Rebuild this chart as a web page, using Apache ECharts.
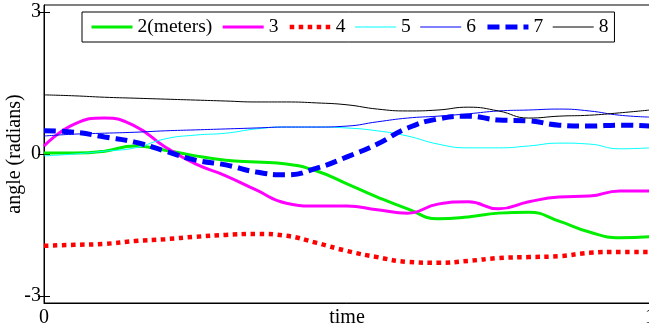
<!DOCTYPE html>
<html>
<head>
<meta charset="utf-8">
<script src="https://cdn.jsdelivr.net/npm/echarts@6/dist/echarts.min.js"></script>
<style>
  html, body { margin: 0; padding: 0; background: #fff; }
  #chart { width: 649px; height: 326px; }
</style>
</head>
<body>
<div id="chart"></div>
<script>
// time samples (0..1)
const times = [0, 0.05, 0.1, 0.15, 0.2, 0.25, 0.3, 0.35, 0.4, 0.45, 0.5,
               0.55, 0.6, 0.65, 0.7, 0.75, 0.8, 0.85, 0.9, 0.95, 1];
const s2 = [0.02, 0.02, 0.06, 0.17, 0.08, -0.04, -0.13, -0.17, -0.21, -0.36, -0.63,
            -0.91, -1.16, -1.37, -1.33, -1.25, -1.23, -1.42, -1.65, -1.77, -1.75];
const s3 = [0.17, 0.63, 0.76, 0.59, 0.15, -0.21, -0.46, -0.76, -1.04, -1.10, -1.10,
            -1.18, -1.25, -1.06, -1.01, -1.16, -1.01, -0.91, -0.89, -0.78, -0.78];
const s4 = [-1.94, -1.92, -1.90, -1.84, -1.80, -1.75, -1.71, -1.69, -1.73, -1.88, -2.05,
            -2.18, -2.28, -2.30, -2.26, -2.20, -2.18, -2.16, -2.09, -2.07, -2.07];
const s5 = [-0.04, 0, 0.06, 0.13, 0.32, 0.40, 0.44, 0.53, 0.57, 0.57, 0.55,
            0.49, 0.38, 0.21, 0.13, 0.13, 0.17, 0.23, 0.21, 0.11, 0.13];
const s6 = [0.38, 0.42, 0.44, 0.46, 0.49, 0.51, 0.53, 0.55, 0.57, 0.57, 0.59,
            0.68, 0.76, 0.80, 0.85, 0.91, 0.93, 0.95, 0.91, 0.82, 0.78];
const s7 = [0.49, 0.46, 0.36, 0.25, 0.06, -0.13, -0.23, -0.38, -0.44, -0.30, -0.06,
            0.21, 0.55, 0.74, 0.80, 0.72, 0.70, 0.61, 0.59, 0.61, 0.59];
const s8 = [1.25, 1.23, 1.20, 1.18, 1.16, 1.14, 1.12, 1.10, 1.10, 1.08, 1.04,
            0.95, 0.91, 0.93, 0.99, 0.91, 0.76, 0.80, 0.82, 0.87, 0.93];
const yTicks = [-3, 0, 3];
const xTicks = [0, 1];

const font = 'Liberation Serif';
const chart = echarts.init(document.getElementById('chart'));

const styles = [
    { name: '2(meters)', data: s2, color: '#00ee00', width: 3, type: 'solid' },
    { name: '3', data: s3, color: '#ff00ff', width: 3, type: 'solid' },
    { name: '4', data: s4, color: '#ff0000', width: 4.5, type: [4.5, 4.5] },
    { name: '5', data: s5, color: '#00ffff', width: 1, type: 'solid' },
    { name: '6', data: s6, color: '#0000ff', width: 1, type: 'solid' },
    { name: '7', data: s7, color: '#0000ff', width: 5, type: [12, 6] },
    { name: '8', data: s8, color: '#000000', width: 1, type: 'solid' }
];

const pair = arr => arr.map((v, i) => [times[i], v]);

chart.setOption({
    animation: false,
    grid: {
        left: 44, right: -1, top: 5, bottom: 23,
        outerBoundsMode: 'none', containLabel: false,
        show: true, borderColor: '#000', borderWidth: 1
    },
    legend: {
        left: 82,
        top: 12,
        padding: [5, 6, 5, 8],
        itemWidth: 41,
        itemHeight: 20,
        itemGap: 9,
        borderColor: '#000',
        borderWidth: 1,
        backgroundColor: '#fff',
        itemStyle: { opacity: 0 },
        textStyle: { fontFamily: font, fontSize: 19.5, color: '#000' },
        data: styles.map(s => ({
            name: s.name,
            itemStyle: { opacity: 0 },
            lineStyle: { color: s.color, width: s.width, type: s.type, cap: 'butt' }
        }))
    },
    xAxis: {
        type: 'value',
        min: 0,
        max: 1,
        name: 'time',
        nameLocation: 'middle',
        nameGap: 5,
        nameMoveOverlap: false,
        nameTextStyle: { fontFamily: font, fontSize: 20, color: '#000', verticalAlign: 'top' },
        axisLine: { onZero: false, lineStyle: { color: '#000', width: 1 } },
        axisTick: { show: false },
        splitLine: { show: false },
        axisLabel: { customValues: xTicks, fontFamily: font, fontSize: 20, color: '#000', margin: 5 }
    },
    yAxis: [{
        type: 'value',
        min: -3.15,
        max: 3.15,
        name: 'angle (radians)',
        nameLocation: 'middle',
        nameGap: 19,
        nameMoveOverlap: false,
        nameTextStyle: { fontFamily: font, fontSize: 20, color: '#000' },
        axisLine: { show: true, onZero: false, lineStyle: { color: '#000', width: 1 } },
        axisTick: { show: true, inside: true, length: 6, customValues: yTicks, lineStyle: { color: '#000' } },
        splitLine: { show: false },
        axisLabel: { customValues: yTicks, fontFamily: font, fontSize: 20, color: '#000', margin: 3 }
    }, {
        type: 'value',
        min: -3.15,
        max: 3.15,
        position: 'right',
        axisLine: { show: false },
        axisTick: { show: true, inside: true, length: 6, customValues: yTicks, lineStyle: { color: '#000' } },
        splitLine: { show: false },
        axisLabel: { show: false }
    }],
    series: styles.map(s => ({
        name: s.name,
        type: 'line',
        data: pair(s.data),
        smooth: true,
        symbol: 'none',
        lineStyle: { color: s.color, width: s.width, type: s.type, cap: 'butt' },
        itemStyle: { color: s.color }
    }))
});
</script>
</body>
</html>
